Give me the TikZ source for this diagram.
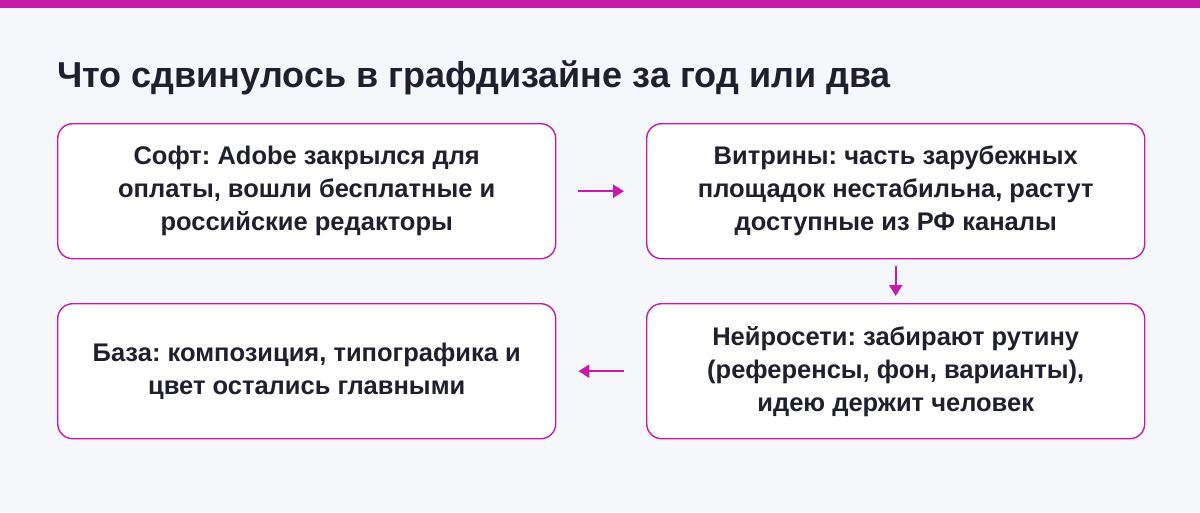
\documentclass[tikz,border=0pt]{standalone}
\usepackage{fontspec}
\setmainfont{Liberation Sans}
\frenchspacing
\usetikzlibrary{arrows.meta}
\definecolor{mag}{HTML}{C81AA8}
\definecolor{bg}{HTML}{F6F7FB}
\definecolor{ink}{HTML}{1F1F2E}
\begin{document}
\begin{tikzpicture}[x=1pt,y=-1pt,
 box/.style={draw=mag,line width=1.4pt,fill=white,rounded corners=15pt,minimum width=498pt,minimum height=135pt,anchor=north west,align=center,font=\fontsize{25.5}{33}\selectfont\bfseries,text=ink,inner sep=0pt},
 arr/.style={draw=mag,line width=2.4pt,-{Triangle[length=11pt,width=13pt]}}]
\useasboundingbox (0,0) rectangle (1200,512);
\fill[bg] (0,0) rectangle (1200,512);
\fill[mag] (0,0) rectangle (1200,8);
\node[anchor=west,font=\fontsize{36}{40}\selectfont\bfseries,text=ink,inner sep=0pt] (title) at (57,78) {Что сдвинулось в графдизайне за год или два};
\node[box] (a) at (57,123) {Софт: Adobe закрылся для\\оплаты, вошли бесплатные и\\российские редакторы};
\node[box] (b) at (646,123) {Витрины: часть зарубежных\\площадок нестабильна, растут\\доступные из РФ каналы};
\node[box] (c) at (646,303) {Нейросети: забирают рутину\\(референсы, фон, варианты),\\идею держит человек};
\node[box] (d) at (57,303) {База: композиция, типографика и\\цвет остались главными};
\draw[arr] ([xshift=22pt]a.east) -- ([xshift=-22pt]b.west);
\draw[arr] ([yshift=-7pt]b.south) -- ([yshift=7pt]c.north);
\draw[arr] ([xshift=-22pt]c.west) -- ([xshift=22pt]d.east);
\end{tikzpicture}
\end{document}
